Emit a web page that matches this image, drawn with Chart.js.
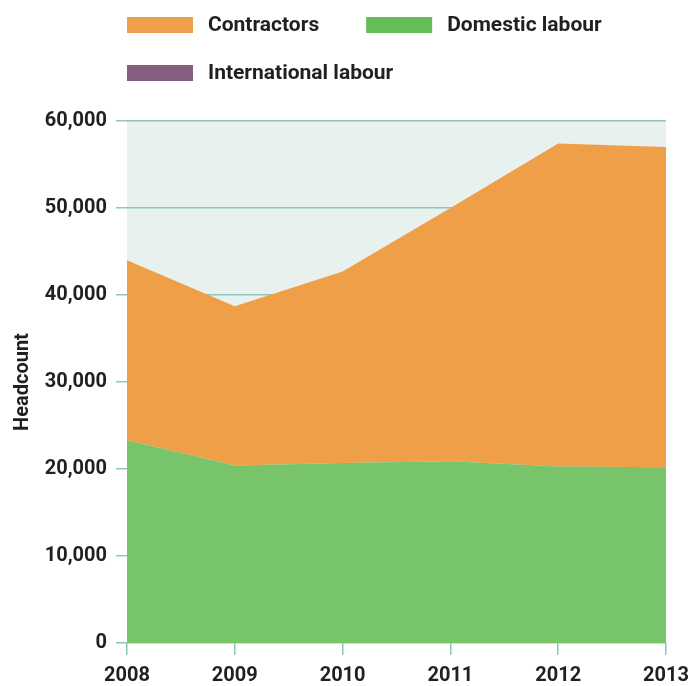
<!DOCTYPE html>
<html>
<head>
<meta charset="utf-8">
<script src="https://cdn.jsdelivr.net/npm/chart.js@4/dist/chart.umd.min.js"></script>
<style>
  html, body { margin: 0; padding: 0; background: #ffffff; }
  #wrap { width: 688px; height: 686px; position: relative; }
</style>
</head>
<body>
<div id="wrap"><canvas id="c" width="688" height="686"></canvas></div>
<script>
// ---- data ----
const years = ['2008', '2009', '2010', '2011', '2012', '2013'];
const domesticLabour = [23300, 20400, 20700, 20900, 20300, 20200];
const contractors = [20700, 18300, 22000, 29100, 37100, 36800];
const internationalLabour = [0, 0, 0, 0, 0, 0];
const yTicks = [0, 10000, 20000, 30000, 40000, 50000, 60000];
const legendOrder = ['Contractors', 'Domestic labour', 'International labour'];

const TEXT = '#231F20';
const GRID = '#8EC6BD';
const FONT = 'Roboto, "DejaVu Sans", sans-serif';

const plotBg = {
  id: 'plotBg',
  beforeDraw(chart) {
    const { ctx, chartArea: a } = chart;
    ctx.save();
    ctx.fillStyle = '#E8F1EE';
    ctx.fillRect(a.left, a.top, a.right - a.left, a.bottom - a.top);
    ctx.restore();
  }
};

const customLegend = {
  id: 'customLegend',
  afterDraw(chart) {
    const { ctx, chartArea: a } = chart;
    const boxW = 66, boxH = 16, gapText = 15, gapItem = 47, rowH = 48, firstRowY = 25;
    ctx.save();
    ctx.font = 'bold 21px ' + FONT;
    ctx.textBaseline = 'middle';
    ctx.textAlign = 'left';
    let x = a.left, y = firstRowY;
    legendOrder.forEach((name) => {
      const ds = chart.data.datasets.find(d => d.label === name);
      const tw = ctx.measureText(name).width;
      const w = boxW + gapText + tw;
      if (x + w > chart.width && x > a.left) { x = a.left; y += rowH; }
      ctx.fillStyle = ds.legendColor;
      ctx.fillRect(x, y - boxH / 2, boxW, boxH);
      ctx.fillStyle = TEXT;
      ctx.fillText(name, x + boxW + gapText, y + 1);
      x += w + gapItem;
    });
    ctx.restore();
  }
};

new Chart(document.getElementById('c'), {
  type: 'line',
  data: {
    labels: years,
    datasets: [
      { label: 'Domestic labour', data: domesticLabour, backgroundColor: '#77C46A', legendColor: '#63BE57',
        borderWidth: 0, pointRadius: 0, fill: 'origin', tension: 0 },
      { label: 'Contractors', data: contractors, backgroundColor: '#EE9F48', legendColor: '#F09F4A',
        borderWidth: 0, pointRadius: 0, fill: '-1', tension: 0 },
      { label: 'International labour', data: internationalLabour, backgroundColor: '#875E80', legendColor: '#875E80',
        borderWidth: 0, pointRadius: 0, fill: '-1', tension: 0 }
    ]
  },
  options: {
    responsive: false,
    animation: false,
    devicePixelRatio: 1,
    layout: { padding: { top: 121, right: 22, bottom: 0, left: 0 } },
    plugins: { legend: { display: false }, tooltip: { enabled: false } },
    scales: {
      x: {
        stacked: true,
        offset: false,
        border: { display: false },
        grid: { drawOnChartArea: false, drawTicks: true, tickLength: 12, color: GRID, lineWidth: 1.5 },
        ticks: { color: TEXT, font: { family: FONT, size: 20, weight: 'bold' }, padding: 9, maxRotation: 0, autoSkip: false },
        afterFit(s) { s.height = 43; s.paddingRight = 0; s.paddingLeft = 0; }
      },
      y: {
        stacked: true,
        min: 0,
        max: 60000,
        border: { display: false },
        grid: { color: GRID, lineWidth: 1.5, tickLength: 11 },
        afterBuildTicks(s) { s.ticks = yTicks.map(v => ({ value: v })); },
        ticks: {
          color: TEXT, font: { family: FONT, size: 20, weight: 'bold' }, padding: 9,
          callback: (v) => v.toLocaleString('en-US')
        },
        title: { display: true, text: 'Headcount', color: TEXT, font: { family: FONT, size: 20, weight: 'bold' }, padding: { top: 11, bottom: 0 } },
        afterFit(s) { s.width = 127; }
      }
    }
  },
  plugins: [plotBg, customLegend]
});
</script>
</body>
</html>
